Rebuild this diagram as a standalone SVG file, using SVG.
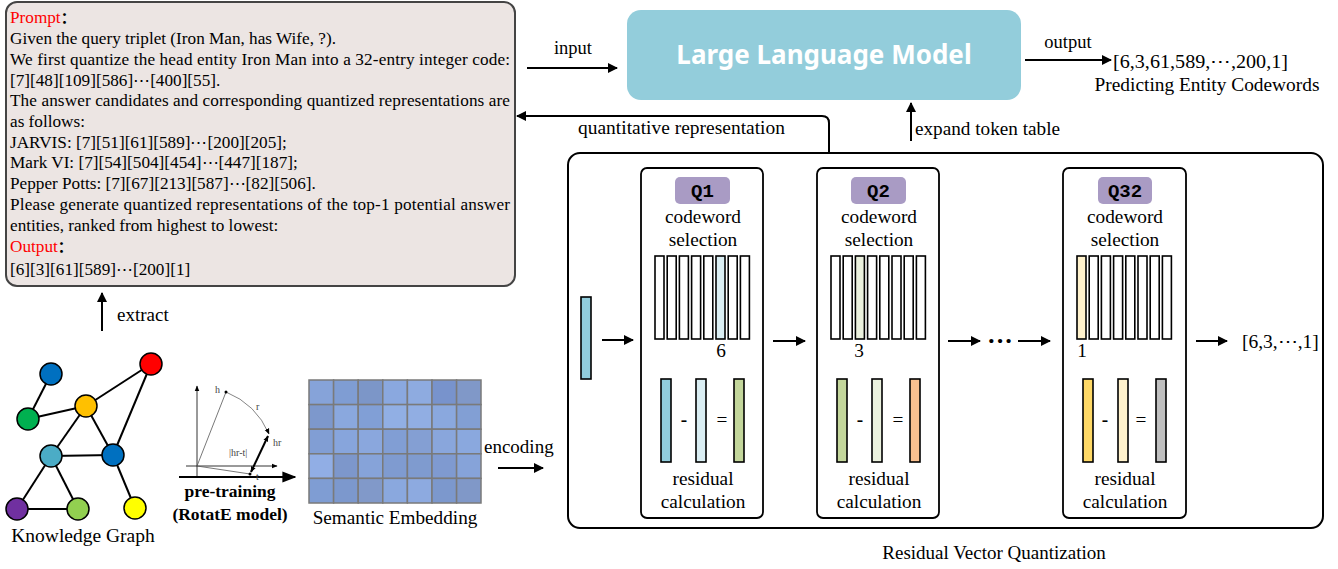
<svg xmlns="http://www.w3.org/2000/svg" width="1338" height="569" viewBox="0 0 1338 569">
<defs>
<marker id="ah" viewBox="0 0 10 10" refX="9" refY="5" markerWidth="10" markerHeight="10" markerUnits="userSpaceOnUse" orient="auto-start-reverse"><path d="M0,0 L10,5 L0,10 z" fill="#000"/></marker>
<marker id="ahs" viewBox="0 0 10 10" refX="9" refY="5" markerWidth="6" markerHeight="6" markerUnits="userSpaceOnUse" orient="auto-start-reverse"><path d="M0,1 L10,5 L0,9 z" fill="#000"/></marker>
<marker id="ahb" viewBox="0 0 10 10" refX="9" refY="5" markerWidth="14" markerHeight="14" markerUnits="userSpaceOnUse" orient="auto"><path d="M0,1 L10,5 L0,9 z" fill="#000"/></marker>
<style>
.t{font-family:"Liberation Serif","Times New Roman",serif;fill:#000}
.p{font-size:17.2px}
.lbl{font-size:18.5px}
.qs{font-size:19.3px}
.red{fill:#ff0000}
.ln{stroke:#000;stroke-width:2;fill:none}
.cb{stroke:#000;stroke-width:1.6;fill:#fff}
.rb{stroke:#000;stroke-width:1.6}
.qbox{fill:#fff;stroke:#000;stroke-width:1.8}
.qlab{fill:#a99bc4}
.qt{font-family:"Liberation Mono","DejaVu Sans Mono",monospace;font-weight:bold;font-size:19px;fill:#000}
.kg{stroke:#000;stroke-width:2}
.nd{stroke:#000;stroke-width:1.5}
.cell{stroke:#7a7a7a;stroke-width:1.5}
.sm{font-family:"Liberation Serif",serif;font-size:10px;fill:#444}
</style>
</defs>

<!-- Prompt box -->
<g id="prompt">
<rect x="6" y="2" width="509" height="284" rx="11" fill="#ece5e3" stroke="#444" stroke-width="2"/>
<text class="t p" x="10" y="23"><tspan class="red">Prompt</tspan><tspan font-family="'Noto Sans CJK SC',sans-serif" font-weight="bold" font-size="15px">：</tspan></text>
<text class="t p" x="10" y="44">Given the query triplet (Iron Man, has Wife, ?).</text>
<text class="t p" x="10" y="65" textLength="500" lengthAdjust="spacing">We first quantize the head entity Iron Man into a 32-entry integer code:</text>
<text class="t p" x="10" y="86">[7][48][109][586]⋯[400][55].</text>
<text class="t p" x="10" y="106" textLength="500" lengthAdjust="spacing">The answer candidates and corresponding quantized representations are</text>
<text class="t p" x="10" y="127">as follows:</text>
<text class="t p" x="10" y="148">JARVIS: [7][51][61][589]⋯[200][205];</text>
<text class="t p" x="10" y="168">Mark VI: [7][54][504][454]⋯[447][187];</text>
<text class="t p" x="10" y="189">Pepper Potts: [7][67][213][587]⋯[82][506].</text>
<text class="t p" x="10" y="210" textLength="500" lengthAdjust="spacing">Please generate quantized representations of the top-1  potential answer</text>
<text class="t p" x="10" y="231">entities, ranked from highest to lowest:</text>
<text class="t p" x="10" y="252"><tspan class="red">Output</tspan><tspan font-family="'Noto Sans CJK SC',sans-serif" font-weight="bold" font-size="15px">：</tspan></text>
<text class="t p" x="10" y="275">[6][3][61][589]⋯[200][1]</text>
</g>

<!-- LLM -->
<g id="llm">
<rect x="627" y="10" width="394" height="90" rx="14" fill="#93cddb"/>
<text x="824" y="64" text-anchor="middle" font-family="'Noto Sans','Open Sans',sans-serif" font-weight="bold" font-size="26px" fill="#fff">Large Language Model</text>
</g>

<g id="llm-output">
<text class="t" x="1113" y="68" font-size="19.5px" textLength="175" lengthAdjust="spacingAndGlyphs">[6,3,61,589,⋯,200,1]</text>
<text class="t" x="1207" y="91" font-size="19px" text-anchor="middle" textLength="225" lengthAdjust="spacingAndGlyphs">Predicting Entity Codewords</text>
</g>

<!-- Knowledge graph -->
<g id="knowledge-graph">
<g class="kg">
<line x1="51" y1="374" x2="28" y2="419"/>
<line x1="28" y1="419" x2="86" y2="406"/>
<line x1="86" y1="406" x2="151" y2="364"/>
<line x1="86" y1="406" x2="51" y2="456"/>
<line x1="86" y1="406" x2="113" y2="455"/>
<line x1="151" y1="364" x2="113" y2="455"/>
<line x1="51" y1="456" x2="113" y2="455"/>
<line x1="51" y1="456" x2="17" y2="509"/>
<line x1="51" y1="456" x2="78" y2="509"/>
<line x1="17" y1="509" x2="78" y2="509"/>
<line x1="113" y1="455" x2="135" y2="508"/>
</g>
<circle class="nd" cx="51" cy="374" r="11" fill="#0070c0"/>
<circle class="nd" cx="151" cy="364" r="11" fill="#ff0000"/>
<circle class="nd" cx="86" cy="406" r="11" fill="#ffc000"/>
<circle class="nd" cx="28" cy="419" r="11" fill="#00b050"/>
<circle class="nd" cx="51" cy="456" r="11" fill="#4bacc6"/>
<circle class="nd" cx="113" cy="455" r="11" fill="#0070c0"/>
<circle class="nd" cx="17" cy="509" r="11" fill="#7030a0"/>
<circle class="nd" cx="78" cy="509" r="11" fill="#92d050"/>
<circle class="nd" cx="135" cy="508" r="11" fill="#ffff00"/>
<text class="t" x="83" y="542" font-size="19.5px" text-anchor="middle">Knowledge Graph</text>
</g>

<!-- RotatE pretraining -->
<g id="rotate">
<line x1="197" y1="477" x2="197" y2="386" stroke="#000" stroke-width="0.8" marker-end="url(#ahs)"/>
<line x1="186" y1="466" x2="277" y2="466" stroke="#000" stroke-width="0.8" marker-end="url(#ahs)"/>
<line x1="179" y1="477" x2="295" y2="477" stroke="#000" stroke-width="2.2" marker-end="url(#ahb)"/>
<line x1="197" y1="466" x2="226" y2="392" stroke="#555" stroke-width="0.8"/>
<line x1="197" y1="466" x2="250" y2="474" stroke="#555" stroke-width="0.8"/>
<path d="M226,392 A79,79 0 0 1 269,434" fill="none" stroke="#666" stroke-width="0.8" marker-end="url(#ahs)"/>
<line x1="251" y1="472" x2="268" y2="436" stroke="#000" stroke-width="2" marker-start="url(#ahs)" marker-end="url(#ahs)"/>
<circle cx="226" cy="392" r="1.5" fill="#000"/>
<circle cx="250" cy="474" r="1.5" fill="#000"/>
<text class="sm" x="215" y="393">h</text>
<text class="sm" x="256" y="410">r</text>
<text class="sm" x="273" y="446">hr</text>
<text class="sm" x="229" y="456">|hr-t|</text>
<text class="sm" x="256" y="480">t</text>
<text class="t" x="230" y="497" font-size="17.5px" font-weight="bold" text-anchor="middle">pre-training</text>
<text class="t" x="230" y="520" font-size="17.5px" font-weight="bold" text-anchor="middle">(RotatE model)</text>
</g>

<!-- Semantic embedding -->
<g id="semantic-embedding">
<rect x="309" y="380" width="172" height="123" fill="#8ba7db"/>
<g class="cell">
<rect x="309" y="380" width="24.6" height="24.6" fill="#86a3d9"/>
<rect x="333.6" y="380" width="24.6" height="24.6" fill="#7f9dd3"/>
<rect x="358.2" y="380" width="24.6" height="24.6" fill="#7c96c8"/>
<rect x="382.8" y="380" width="24.6" height="24.6" fill="#8aa8df"/>
<rect x="407.4" y="380" width="24.6" height="24.6" fill="#8eabe0"/>
<rect x="432" y="380" width="24.6" height="24.6" fill="#7893cc"/>
<rect x="456.6" y="380" width="24.4" height="24.6" fill="#8098c8"/>
<rect x="309" y="404.6" width="24.6" height="24.6" fill="#7d98cc"/>
<rect x="333.6" y="404.6" width="24.6" height="24.6" fill="#8aa8de"/>
<rect x="358.2" y="404.6" width="24.6" height="24.6" fill="#819fd6"/>
<rect x="382.8" y="404.6" width="24.6" height="24.6" fill="#91afe4"/>
<rect x="407.4" y="404.6" width="24.6" height="24.6" fill="#91aee3"/>
<rect x="432" y="404.6" width="24.6" height="24.6" fill="#8aa8de"/>
<rect x="456.6" y="404.6" width="24.4" height="24.6" fill="#829fd4"/>
<rect x="309" y="429.2" width="24.6" height="24.6" fill="#819ed4"/>
<rect x="333.6" y="429.2" width="24.6" height="24.6" fill="#87a5dc"/>
<rect x="358.2" y="429.2" width="24.6" height="24.6" fill="#8aa7dd"/>
<rect x="382.8" y="429.2" width="24.6" height="24.6" fill="#819ed4"/>
<rect x="407.4" y="429.2" width="24.6" height="24.6" fill="#849fd3"/>
<rect x="432" y="429.2" width="24.6" height="24.6" fill="#89a6dc"/>
<rect x="456.6" y="429.2" width="24.4" height="24.6" fill="#8aa8de"/>
<rect x="309" y="453.8" width="24.6" height="24.6" fill="#91aee5"/>
<rect x="333.6" y="453.8" width="24.6" height="24.6" fill="#7d97cb"/>
<rect x="358.2" y="453.8" width="24.6" height="24.6" fill="#86a3d9"/>
<rect x="382.8" y="453.8" width="24.6" height="24.6" fill="#7f9bd0"/>
<rect x="407.4" y="453.8" width="24.6" height="24.6" fill="#7f9bcf"/>
<rect x="432" y="453.8" width="24.6" height="24.6" fill="#7f9ad0"/>
<rect x="456.6" y="453.8" width="24.4" height="24.6" fill="#86a3d9"/>
<rect x="309" y="478.4" width="24.6" height="24.6" fill="#7f9dd3"/>
<rect x="333.6" y="478.4" width="24.6" height="24.6" fill="#7c98cd"/>
<rect x="358.2" y="478.4" width="24.6" height="24.6" fill="#8199c9"/>
<rect x="382.8" y="478.4" width="24.6" height="24.6" fill="#8aa8de"/>
<rect x="407.4" y="478.4" width="24.6" height="24.6" fill="#8daae0"/>
<rect x="432" y="478.4" width="24.6" height="24.6" fill="#7c98cd"/>
<rect x="456.6" y="478.4" width="24.4" height="24.6" fill="#8098c8"/>
</g>
<text class="t" x="395" y="524" font-size="19.2px" text-anchor="middle">Semantic Embedding</text>
</g>

<!-- RVQ container -->
<g id="rvq">
<rect x="568" y="153" width="755" height="375" rx="12" fill="none" stroke="#000" stroke-width="2"/>
<text class="t" x="994" y="559" font-size="19px" text-anchor="middle">Residual Vector Quantization</text>
<rect x="581" y="297" width="10" height="82" fill="#92cddc" stroke="#000" stroke-width="1.6"/>
<text class="t" x="1242" y="348" font-size="19.5px">[6,3,⋯,1]</text>
<text class="t" x="1000" y="349" font-size="26px" font-weight="bold" text-anchor="middle">···</text>
</g>

<!-- Q1 -->
<g id="q1">
<rect class="qbox" x="641" y="168" width="122" height="350" rx="6"/>
<rect class="qlab" x="675" y="177" width="55" height="27" rx="5"/>
<text class="qt" x="702.5" y="197" text-anchor="middle">Q1</text>
<text class="t qs" x="703" y="223" text-anchor="middle">codeword</text>
<text class="t qs" x="703" y="246" text-anchor="middle">selection</text>
<rect class="cb" x="655" y="256" width="9" height="83"/>
<rect class="cb" x="667.2" y="256" width="9" height="83"/>
<rect class="cb" x="679.4" y="256" width="9" height="83"/>
<rect class="cb" x="691.6" y="256" width="9" height="83"/>
<rect class="cb" x="703.8" y="256" width="9" height="83"/>
<rect class="cb" x="716" y="256" width="9" height="83" style="fill:#daeef3"/>
<rect class="cb" x="728.2" y="256" width="9" height="83"/>
<rect class="cb" x="740.4" y="256" width="9" height="83"/>
<text class="t qs" x="721" y="357" text-anchor="middle">6</text>
<rect class="rb" x="661" y="379" width="10" height="83" fill="#92cddc"/>
<text class="t qs" x="684" y="426" text-anchor="middle" font-weight="bold">-</text>
<rect class="rb" x="696" y="379" width="10" height="83" fill="#daeef3"/>
<text class="t qs" x="722" y="426" text-anchor="middle">=</text>
<rect class="rb" x="734" y="379" width="10" height="83" fill="#c3d69b"/>
<text class="t qs" x="703" y="485" text-anchor="middle">residual</text>
<text class="t qs" x="703" y="508" text-anchor="middle">calculation</text>
</g>

<!-- Q2 -->
<g id="q2">
<rect class="qbox" x="817" y="168" width="122" height="350" rx="6"/>
<rect class="qlab" x="851" y="177" width="55" height="27" rx="5"/>
<text class="qt" x="878.5" y="197" text-anchor="middle">Q2</text>
<text class="t qs" x="879" y="223" text-anchor="middle">codeword</text>
<text class="t qs" x="879" y="246" text-anchor="middle">selection</text>
<rect class="cb" x="831" y="256" width="9" height="83"/>
<rect class="cb" x="843.2" y="256" width="9" height="83"/>
<rect class="cb" x="855.4" y="256" width="9" height="83" style="fill:#ebf1de"/>
<rect class="cb" x="867.6" y="256" width="9" height="83"/>
<rect class="cb" x="879.8" y="256" width="9" height="83"/>
<rect class="cb" x="892" y="256" width="9" height="83"/>
<rect class="cb" x="904.2" y="256" width="9" height="83"/>
<rect class="cb" x="916.4" y="256" width="9" height="83"/>
<text class="t qs" x="859" y="357" text-anchor="middle">3</text>
<rect class="rb" x="837" y="379" width="10" height="83" fill="#c3d69b"/>
<text class="t qs" x="860" y="426" text-anchor="middle" font-weight="bold">-</text>
<rect class="rb" x="872" y="379" width="10" height="83" fill="#ebf1de"/>
<text class="t qs" x="898" y="426" text-anchor="middle">=</text>
<rect class="rb" x="910" y="379" width="10" height="83" fill="#fac090"/>
<text class="t qs" x="879" y="485" text-anchor="middle">residual</text>
<text class="t qs" x="879" y="508" text-anchor="middle">calculation</text>
</g>

<!-- Q32 -->
<g id="q32">
<rect class="qbox" x="1063" y="168" width="123" height="350" rx="6"/>
<rect class="qlab" x="1098" y="177" width="54" height="27" rx="5"/>
<text class="qt" x="1125" y="197" text-anchor="middle">Q32</text>
<text class="t qs" x="1125" y="223" text-anchor="middle">codeword</text>
<text class="t qs" x="1125" y="246" text-anchor="middle">selection</text>
<rect class="cb" x="1077" y="256" width="9" height="83" style="fill:#fff2cc"/>
<rect class="cb" x="1089.2" y="256" width="9" height="83"/>
<rect class="cb" x="1101.4" y="256" width="9" height="83"/>
<rect class="cb" x="1113.6" y="256" width="9" height="83"/>
<rect class="cb" x="1125.8" y="256" width="9" height="83"/>
<rect class="cb" x="1138" y="256" width="9" height="83"/>
<rect class="cb" x="1150.2" y="256" width="9" height="83"/>
<rect class="cb" x="1162.4" y="256" width="9" height="83"/>
<text class="t qs" x="1082" y="357" text-anchor="middle">1</text>
<rect class="rb" x="1083" y="379" width="10" height="83" fill="#ffd966"/>
<text class="t qs" x="1105" y="426" text-anchor="middle" font-weight="bold">-</text>
<rect class="rb" x="1118" y="379" width="10" height="83" fill="#fff2cc"/>
<text class="t qs" x="1141" y="426" text-anchor="middle">=</text>
<rect class="rb" x="1156" y="379" width="10" height="83" fill="#bfbfbf"/>
<text class="t qs" x="1125" y="485" text-anchor="middle">residual</text>
<text class="t qs" x="1125" y="508" text-anchor="middle">calculation</text>
</g>

<!-- Connectors -->
<g id="connectors">
<line class="ln" x1="527" y1="68" x2="617" y2="68" marker-end="url(#ah)"/>
<text class="t lbl" x="573" y="54" text-anchor="middle">input</text>
<line class="ln" x1="1025" y1="60" x2="1111" y2="60" marker-end="url(#ah)"/>
<text class="t lbl" x="1068" y="48" text-anchor="middle">output</text>
<path class="ln" d="M829,153 L829,123 Q829,116 822,116 L517,116" marker-end="url(#ah)"/>
<text class="t lbl" x="578" y="134" textLength="207" lengthAdjust="spacingAndGlyphs">quantitative representation</text>
<line class="ln" x1="911" y1="141" x2="911" y2="103" marker-end="url(#ah)"/>
<text class="t lbl" x="915" y="135" textLength="145" lengthAdjust="spacingAndGlyphs">expand token table</text>
<line class="ln" x1="102" y1="331" x2="102" y2="293" marker-end="url(#ah)"/>
<text class="t" x="117" y="321" font-size="19px">extract</text>
<line class="ln" x1="498" y1="468" x2="543" y2="468" marker-end="url(#ah)"/>
<text class="t" x="484" y="453" font-size="19px">encoding</text>
<line class="ln" x1="602" y1="340" x2="633" y2="340" marker-end="url(#ah)"/>
<line class="ln" x1="773" y1="341" x2="805" y2="341" marker-end="url(#ah)"/>
<line class="ln" x1="948" y1="341" x2="980" y2="341" marker-end="url(#ah)"/>
<line class="ln" x1="1018" y1="341" x2="1050" y2="341" marker-end="url(#ah)"/>
<line class="ln" x1="1196" y1="341" x2="1227" y2="341" marker-end="url(#ah)"/>
</g>
</svg>
